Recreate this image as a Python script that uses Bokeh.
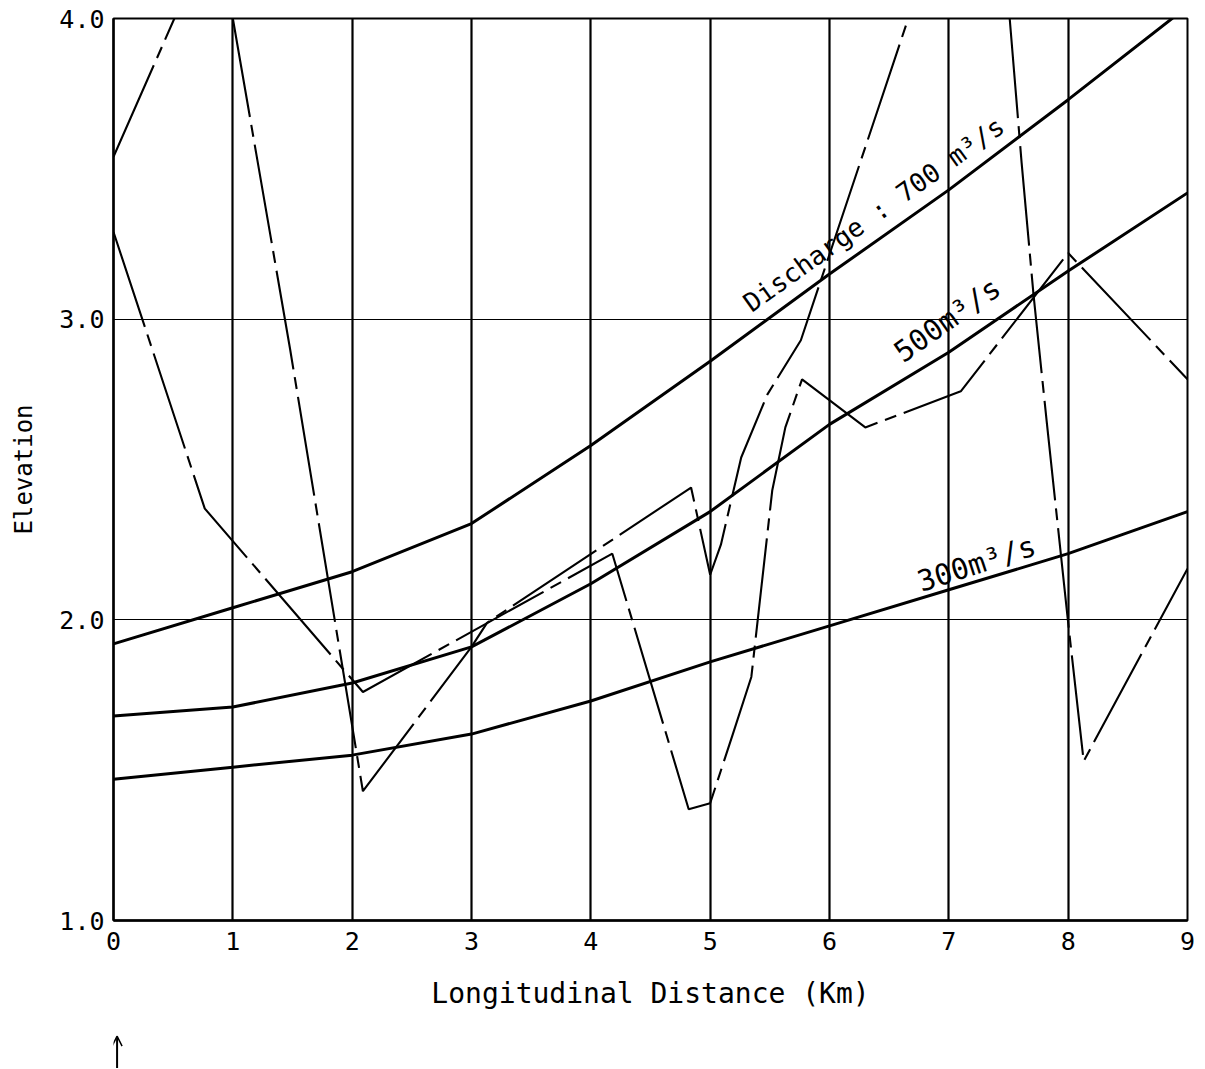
import math
from bokeh.plotting import figure
from bokeh.layouts import column
from bokeh.models import FixedTicker, Label, Arrow, OpenHead, Range1d
from bokeh.embed import file_html
from bokeh.resources import INLINE

nan = float("nan")

# ---------------- data ----------------
distance_km = [0, 1, 2, 3, 4, 5, 6, 7, 8, 9]
stage_700 = [1.92, 2.04, 2.16, 2.32, 2.58, 2.86, 3.15, 3.43, 3.73, 4.04]
stage_500 = [1.68, 1.71, 1.79, 1.91, 2.12, 2.36, 2.65, 2.89, 3.16, 3.42]
stage_300 = [1.47, 1.51, 1.55, 1.62, 1.73, 1.86, 1.98, 2.10, 2.22, 2.36]

bed1_x = [0.0, 0.765, 2.09, 4.18, 4.82, 5.0, 5.19, 5.345, 5.52, 5.63, 5.77, 6.3, 7.1, 8.0, 9.0]
bed1_y = [3.29, 2.37, 1.76, 2.22, 1.37, 1.39, 1.62, 1.81, 2.43, 2.64, 2.80, 2.64, 2.76, 3.22, 2.80]

bed2_x = [0.0, 0.51, nan, 1.0, 1.48, 2.09, 3.0, 3.13, 4.84, 5.0, 5.09, 5.26, 5.48, 5.76, 6.66,
          nan, 7.51, 7.61, 7.71, 7.82, 8.0, 8.13, 9.0]
bed2_y = [3.54, 4.0, nan, 4.0, 2.90, 1.43, 1.91, 1.99, 2.44, 2.15, 2.25, 2.54, 2.75, 2.93, 4.0,
          nan, 4.0, 3.52, 3.08, 2.66, 1.99, 1.53, 2.17]

x_ticks = [0, 1, 2, 3, 4, 5, 6, 7, 8, 9]
x_tick_labels = ["0", "1", "2", "3", "4", "5", "6", "7", "8", "9"]
y_ticks = [1.0, 2.0, 3.0, 4.0]
y_tick_labels = ["1.0", "2.0", "3.0", "4.0"]

curve_labels = ["Discharge : 700 m³/s", "500m³/s", "300m³/s"]

# label placement (style, not data)
label_x = [5.305, 6.57, 6.746]
label_y = [3.045, 2.88, 2.124]
label_angle_deg = [35.6, 35.3, 18.0]
label_size = ["26px", "29px", "29px"]

# ---------------- figure ----------------
FONT = "DejaVu Sans Mono"
FW, FH = 1074, 902
BL, BR = 113, 16
p = figure(frame_width=FW, frame_height=FH,
           x_range=Range1d(x_ticks[0], x_ticks[-1]), y_range=Range1d(y_ticks[0], y_ticks[-1]),
           output_backend="svg", toolbar_location=None,
           min_border_left=BL, min_border_right=BR, min_border_top=18, min_border_bottom=115)

p.background_fill_color = "white"
p.border_fill_color = "white"
p.outline_line_color = "black"
p.outline_line_width = 2
p.outline_line_alpha = 1

# grids
p.xgrid.ticker = FixedTicker(ticks=x_ticks)
p.xgrid.grid_line_color = "black"
p.xgrid.grid_line_width = 2.2
p.xgrid.grid_line_alpha = 1
p.ygrid.ticker = FixedTicker(ticks=y_ticks)
p.ygrid.grid_line_color = "black"
p.ygrid.grid_line_width = 1.2
p.ygrid.grid_line_alpha = 1

# axes
p.xaxis.ticker = FixedTicker(ticks=x_ticks)
p.xaxis.major_label_overrides = {t: s for t, s in zip(x_ticks, x_tick_labels)}
p.yaxis.ticker = FixedTicker(ticks=y_ticks)
p.yaxis.major_label_overrides = {t: s for t, s in zip(y_ticks, y_tick_labels)}
for ax in (p.xaxis, p.yaxis):
    ax.axis_line_color = "black"
    ax.axis_line_width = 2.4
    ax.major_tick_line_color = None
    ax.minor_tick_line_color = None
    ax.major_label_text_font = FONT
    ax.major_label_text_font_size = "25px"
    ax.major_label_text_color = "black"
    ax.axis_label_text_font = FONT
    ax.axis_label_text_font_style = "normal"
    ax.axis_label_text_color = "black"

p.xaxis.major_label_standoff = 5
p.yaxis.major_label_standoff = 3
p.xaxis.axis_label = "Longitudinal Distance (Km)"
p.xaxis.axis_label_text_font_size = "28px"
p.xaxis.axis_label_standoff = 24
p.yaxis.axis_label = "Elevation"
p.yaxis.axis_label_text_font_size = "24px"
p.yaxis.axis_label_standoff = 18

# water surface profiles
for ys in (stage_700, stage_500, stage_300):
    p.line(distance_km, ys, line_color="black", line_width=3)

# bed profiles (chain lines)
p.line(bed1_x, bed1_y, line_color="black", line_width=2.1, line_dash="100 8 12 8")
p.line(bed2_x, bed2_y, line_color="black", line_width=2.1, line_dash="100 8 12 8")

# curve labels
for txt, lx, ly, ang, fs in zip(curve_labels, label_x, label_y, label_angle_deg, label_size):
    p.add_layout(Label(x=lx, y=ly, text=txt, angle=math.radians(ang), angle_units="rad",
                       text_font=FONT, text_font_size=fs, text_color="black",
                       text_align="left", text_baseline="alphabetic"))

# small strip below with the upstream marker arrow at km 0
p2 = figure(frame_width=FW, frame_height=33, x_range=p.x_range, y_range=Range1d(0, 1),
            output_backend="svg", toolbar_location=None,
            min_border_left=BL, min_border_right=BR, min_border_top=0, min_border_bottom=0)
p2.axis.visible = False
p2.grid.visible = False
p2.outline_line_color = None
p2.background_fill_color = "white"
p2.border_fill_color = "white"
p2.add_layout(Arrow(end=OpenHead(size=10, line_width=1.5, line_color="black"),
                    x_start=distance_km[0] + 0.03, y_start=0.0,
                    x_end=distance_km[0] + 0.03, y_end=0.98,
                    line_color="black", line_width=2))

layout = column(p, p2, spacing=0)
open("out.html", "w").write(file_html(layout, INLINE))
